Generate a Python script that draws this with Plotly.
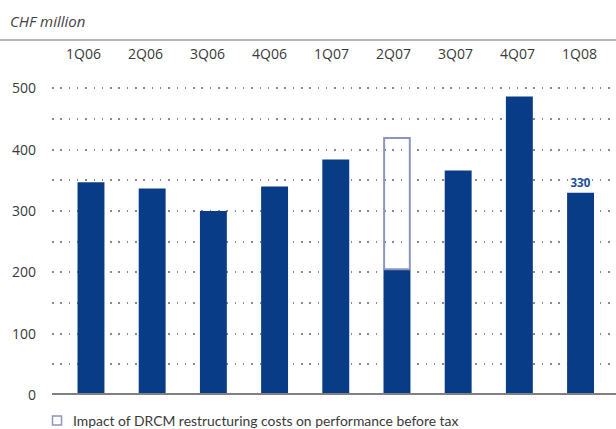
import plotly.graph_objects as go

categories = ["1Q06", "2Q06", "3Q06", "4Q06", "1Q07", "2Q07", "3Q07", "4Q07", "1Q08"]
performance = [347, 337, 300, 340, 384, 205, 366, 487, 330]
# DRCM restructuring impact (only 2Q07): box stacked on top of the 2Q07 bar
drcm_impact = [0, 0, 0, 0, 0, 214, 0, 0, 0]
label_values = [None, None, None, None, None, None, None, None, 330]
y_tickvals = [0, 50, 100, 150, 200, 250, 300, 350, 400, 450, 500]
y_ticktext = ["0", "", "100", "", "200", "", "300", "", "400", "", "500"]
legend_text = "Impact of DRCM restructuring costs on performance before tax"

BAR = "#083c87"
BOX = "#8c96c4"
FONT = "Open Sans, Noto Sans, sans-serif"
LEG_FONT = "Lato, Open Sans, sans-serif"

W, H = 616, 429
ML, MR, MT, MB = 52, 0, 40, 34
PW, PH = W - ML - MR, H - MT - MB

xs = list(range(len(categories)))

fig = go.Figure()
fig.add_trace(go.Bar(
    x=xs, y=performance, width=0.44, marker=dict(color=BAR, line=dict(width=0)),
    text=[("" if v is None else str(v)) for v in label_values],
    textposition="outside", cliponaxis=False,
    textfont=dict(family=FONT, size=11.5, color="#1f4e9c", weight="bold"),
    showlegend=False, hoverinfo="skip",
))
box_x = [x for x, d in zip(xs, drcm_impact) if d > 0]
box_base = [p for p, d in zip(performance, drcm_impact) if d > 0]
box_h = [d for d in drcm_impact if d > 0]
fig.add_trace(go.Bar(
    x=box_x, y=box_h, base=box_base, width=0.42,
    marker=dict(color="rgba(255,255,255,0)", line=dict(color=BOX, width=2)),
    name=legend_text, showlegend=False, hoverinfo="skip",
))

# category labels along the top
for i, c in enumerate(categories):
    fig.add_annotation(
        x=(31 + 62.1 * i) / PW, y=1, xref="paper", yref="paper",
        yshift=-13, text=c, showarrow=False, xanchor="center", yanchor="middle",
        font=dict(family=FONT, size=14, color="#3a3a3a"),
    )

fig.add_annotation(
    x=(8 - ML) / PW, y=1 + (MT - 21) / PH, xref="paper", yref="paper",
    text="<i>CHF million</i>", showarrow=False, xanchor="left", yanchor="middle",
    font=dict(family=FONT, size=15, color="#444444"),
)

# top grey rule
fig.add_shape(type="line", xref="paper", yref="paper", x0=-ML / PW, x1=1, y0=1, y1=1,
              line=dict(color="#b5b5b5", width=2), layer="above")
# base line
fig.add_shape(type="line", xref="paper", yref="y", x0=0, x1=1, y0=0, y1=0,
              line=dict(color="#808080", width=4), layer="above")

# manual legend (box symbol + text)
fig.add_shape(type="rect", xref="paper", yref="paper",
              x0=0.5 / PW, x1=9.5 / PW, y0=-(416 - (MT + PH)) / PH, y1=-(425 - (MT + PH)) / PH,
              line=dict(color=BOX, width=1.5), fillcolor="white", layer="above")
fig.add_annotation(
    x=(71 - ML) / PW, y=-(420.5 - (MT + PH)) / PH, xref="paper", yref="paper",
    text=legend_text, showarrow=False, xanchor="left", yanchor="middle",
    font=dict(family=LEG_FONT, size=13.9, color="#3a3a3a"),
)

fig.update_layout(
    width=W, height=H,
    margin=dict(l=ML, r=MR, t=MT, b=MB),
    plot_bgcolor="white", paper_bgcolor="white",
    barmode="overlay", showlegend=False,
    xaxis=dict(range=[-0.637, 8.579], showticklabels=False, showgrid=False,
               zeroline=False, showline=False, ticks=""),
    yaxis=dict(range=[0, 579], tickvals=y_tickvals, ticktext=y_ticktext,
               showgrid=True, gridcolor="#8a8a8a", gridwidth=1.5, griddash="1.5px,6.8px",
               zeroline=False, showline=False, ticks="", ticklabelstandoff=15,
               tickfont=dict(family=FONT, size=14, color="#3a3a3a")),
)

fig.write_html("out.html", config={"displayModeBar": False},
               post_script="document.body.style.margin='0';document.body.style.overflow='hidden';")
